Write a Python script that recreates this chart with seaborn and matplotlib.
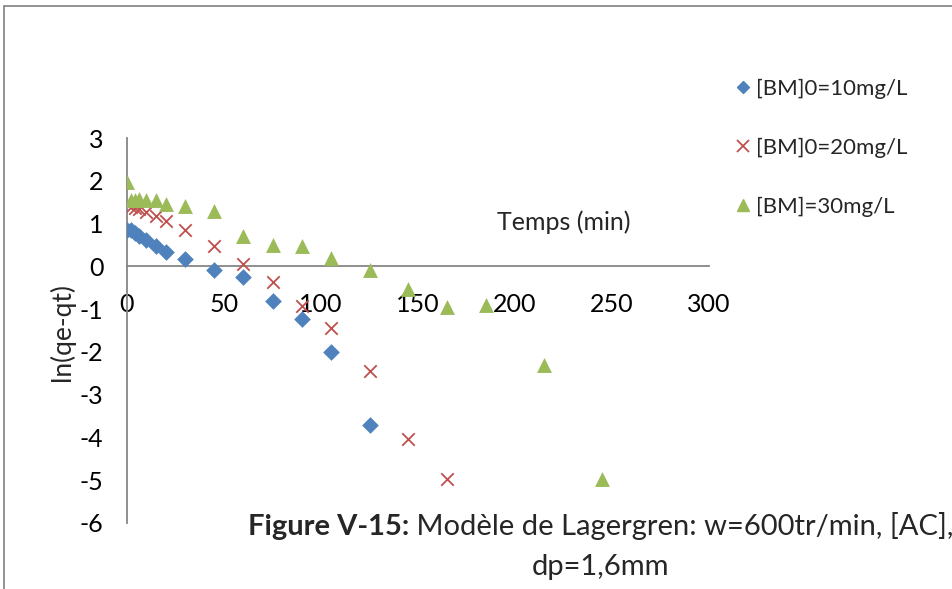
import numpy as np
import pandas as pd
import matplotlib
matplotlib.use("Agg")
import matplotlib.pyplot as plt
import seaborn as sns
from matplotlib.lines import Line2D

# ---- data ----
t10 = [0, 2, 4, 6, 10, 15, 20, 30, 45, 60, 75, 90, 105, 125]
y10 = [0.84, 0.85, 0.78, 0.72, 0.62, 0.47, 0.34, 0.16, -0.09, -0.25, -0.81, -1.24, -2.01, -3.72]

t20 = [0, 2, 4, 6, 10, 15, 20, 30, 45, 60, 75, 90, 105, 125, 145, 165]
y20 = [1.45, 1.38, 1.37, 1.33, 1.27, 1.17, 1.07, 0.84, 0.47, 0.05, -0.37, -0.93, -1.43, -2.44, -4.04, -4.97]

t30 = [0, 2, 4, 6, 10, 15, 20, 30, 45, 60, 75, 90, 105, 125, 145, 165, 185, 215, 245]
y30 = [1.97, 1.55, 1.56, 1.57, 1.55, 1.54, 1.45, 1.40, 1.29, 0.70, 0.49, 0.47, 0.20, -0.08, -0.52, -0.96, -0.91, -2.31, -4.97]

series_names = ["[BM]0=10mg/L", "[BM]0=20mg/L", "[BM]=30mg/L"]
x_ticks = [0, 50, 100, 150, 200, 250, 300]
y_ticks = [3, 2, 1, 0, -1, -2, -3, -4, -5, -6]
x_title = "Temps (min)"
y_title = "ln(qe-qt)"
cap_bold = "Figure V-15:"
cap_rest = " Modèle de Lagergren: w=600tr/min, [AC],"
cap_line2 = "dp=1,6mm"

df = pd.concat([
    pd.DataFrame({"t": t10, "v": y10, "s": series_names[0]}),
    pd.DataFrame({"t": t20, "v": y20, "s": series_names[1]}),
    pd.DataFrame({"t": t30, "v": y30, "s": series_names[2]}),
])

sns.set_theme(style="white")
FONT = ["Lato", "DejaVu Sans"]
plt.rcParams["font.family"] = FONT

W, H = 952, 589
DPI = 100
fig = plt.figure(figsize=(W / DPI, H / DPI), dpi=DPI)
fig.patch.set_facecolor("white")

def fx(px):
    return px / W

def fy(py):
    return 1 - py / H

ax_l, ax_r, ax_t, ax_b = 127, 709, 138, 523
ax = fig.add_axes([fx(ax_l), fy(ax_b), fx(ax_r - ax_l), (ax_b - ax_t) / H])
ax.set_facecolor("none")

colors = {series_names[0]: "#4F81BD", series_names[1]: "#C0504D", series_names[2]: "#9BBB59"}

for name, m, s, lw in [(series_names[0], "D", 72, 0), (series_names[1], "x", 80, 1.3), (series_names[2], "^", 115, 0)]:
    sub = df[df["s"] == name]
    sns.scatterplot(data=sub, x="t", y="v", ax=ax, marker=m, s=s,
                    color=colors[name], linewidth=lw, edgecolor=colors[name] if m != "x" else None,
                    legend=False, zorder=3)

ax.set_xlim(0, 300)
ax.set_ylim(-6, 3)
ax.set_xticks(x_ticks)
ax.set_yticks(y_ticks)
ax.set_xticklabels([str(v) for v in x_ticks])
ax.set_yticklabels([str(v) for v in y_ticks])
ax.set_xlabel("")
ax.set_ylabel("")
ax.grid(False)

axis_col = "#868686"
for sp in ["top", "right"]:
    ax.spines[sp].set_visible(False)
ax.spines["left"].set_position(("data", 0))
ax.spines["bottom"].set_position(("data", 0))
for sp in ["left", "bottom"]:
    ax.spines[sp].set_color(axis_col)
    ax.spines[sp].set_linewidth(1.3)
    ax.spines[sp].set_zorder(1)

FS = 18
ax.tick_params(axis="both", length=0, labelsize=FS, colors="black")
ax.tick_params(axis="x", pad=19)
ax.tick_params(axis="y", pad=17)

# axis titles
fig.text(fx(497), fy(222), x_title, fontsize=FS, ha="left", va="center")
fig.text(fx(62), fy(332), y_title, fontsize=FS + 1, ha="center", va="center", rotation=90)

# legend
handles = [
    Line2D([], [], linestyle="none", marker="D", markersize=6.5, color=colors[series_names[0]]),
    Line2D([], [], linestyle="none", marker="x", markersize=8, markeredgewidth=1.3, color=colors[series_names[1]]),
    Line2D([], [], linestyle="none", marker="^", markersize=9, color=colors[series_names[2]]),
]
leg = fig.legend(handles, series_names, loc="upper left", bbox_to_anchor=(fx(733), fy(79)),
                 frameon=False, fontsize=16, handlelength=0.9, handletextpad=0.15,
                 labelspacing=1.75, borderaxespad=0, borderpad=0)

# chart frame (partially visible)
fig.add_artist(Line2D([fx(4), fx(W + 5)], [fy(6), fy(6)], color="#8a8a8a", lw=1.3))
fig.add_artist(Line2D([fx(4), fx(4)], [fy(6), fy(H + 5)], color="#8a8a8a", lw=1.3))

# caption
CFS = 21
t1 = fig.text(fx(248), fy(535), cap_bold, fontsize=CFS, fontweight="bold", ha="left", va="baseline")
fig.canvas.draw()
r = fig.canvas.get_renderer()
bb = t1.get_window_extent(renderer=r)
fig.text(bb.x1 / W, fy(535), cap_rest, fontsize=CFS, ha="left", va="baseline")
fig.text(fx(532), fy(575), cap_line2, fontsize=CFS, ha="left", va="baseline")

fig.savefig("out.png", dpi=DPI, facecolor="white")
